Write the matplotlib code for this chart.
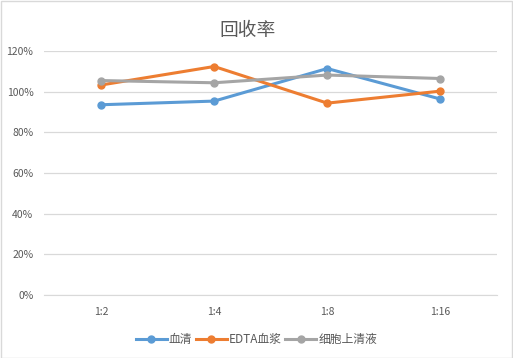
import matplotlib
matplotlib.use("Agg")
import matplotlib.pyplot as plt
from matplotlib.ticker import PercentFormatter

plt.rcParams['font.family'] = ['Noto Sans CJK SC', 'DejaVu Sans']

categories = ['1:2', '1:4', '1:8', '1:16']
serum = [93.5, 95.3, 111.3, 96.3]
edta_plasma = [103.2, 112.3, 94.3, 100.2]
cell_supernatant = [105.4, 104.3, 108.1, 106.4]
series_names = ['血清', 'EDTA血浆', '细胞上清液']
colors = ['#5B9BD5', '#ED7D31', '#A5A5A5']

fig = plt.figure(figsize=(5.13, 3.58), dpi=100)
fig.patches.append(plt.Rectangle((0.001, 0.001), 0.997, 0.996, transform=fig.transFigure,
                                 fill=False, edgecolor='#D9D9D9', linewidth=1))
ax = fig.add_axes([0.0867, 0.176, 0.882, 0.682])

x = range(len(categories))
for vals, name, c in zip([serum, edta_plasma, cell_supernatant], series_names, colors):
    ax.plot(x, vals, color=c, linewidth=2.2, marker='o', markersize=5, label=name)

ax.set_xlim(-0.5, len(categories) - 0.5)
ax.set_ylim(0, 120)
ax.set_yticks(range(0, 121, 20))
ax.yaxis.set_major_formatter(PercentFormatter(decimals=0))
ax.set_xticks(list(x))
ax.set_xticklabels(categories)
ax.grid(axis='y', color='#D9D9D9', linewidth=0.9)
ax.set_axisbelow(True)
for s in ax.spines.values():
    s.set_visible(False)
ax.spines['bottom'].set_visible(True)
ax.spines['bottom'].set_color('#D9D9D9')
ax.tick_params(length=0, labelsize=7.5, colors='#595959', pad=8)
ax.tick_params(axis='x', pad=9)

fig.text(0.483, 0.915, '回收率', ha='center', va='center', fontsize=13.5, color='#595959')
fig.legend(loc='center', bbox_to_anchor=(0.5, 0.052), ncol=3, frameon=False, fontsize=8.5,
           handlelength=2.6, columnspacing=0.3, handletextpad=0.2, labelcolor='#595959')

fig.savefig('out.png', dpi=100)
